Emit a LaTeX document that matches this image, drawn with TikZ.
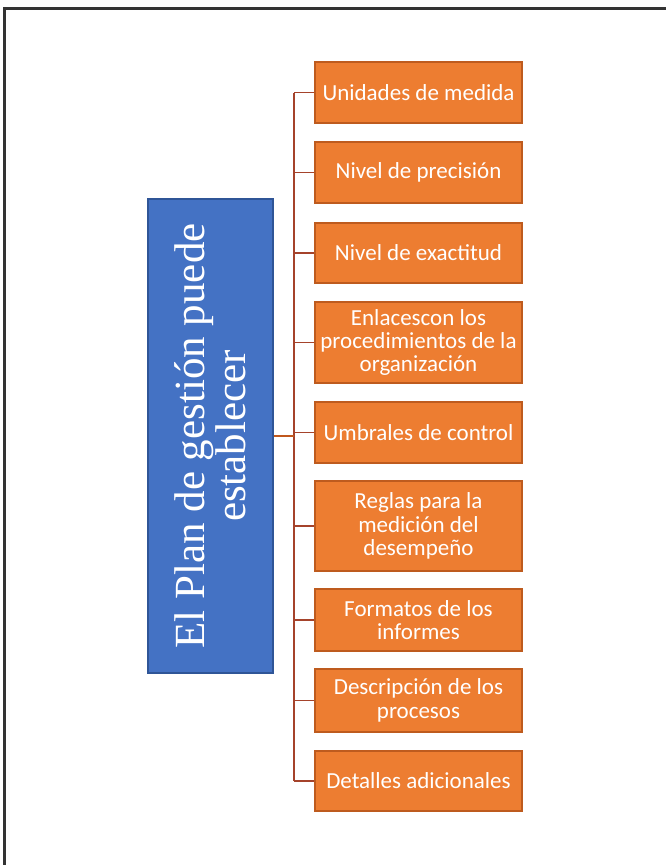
\documentclass[tikz,border=0pt]{standalone}
\usepackage{fontspec}
\setmainfont{Liberation Serif}
\newfontfamily\boxfont{Carlito}
\definecolor{bluefill}{HTML}{4472C4}
\definecolor{blueline}{HTML}{2F5597}
\definecolor{orfill}{HTML}{ED7D31}
\definecolor{orline}{HTML}{BE5B1E}
\definecolor{branchcol}{HTML}{A5432B}
\definecolor{maincol}{HTML}{C0571C}
\definecolor{framecol}{HTML}{333333}
\tikzset{
  rootbox/.style={draw=blueline, line width=1pt, fill=bluefill, minimum width=93.75pt, minimum height=355.5pt, inner sep=0pt},
  leafbox/.style={draw=orline, line width=0.9pt, fill=orfill, minimum width=155.25pt, inner sep=0pt, align=center, text=white,
    font=\boxfont\fontsize{17.25pt}{17.5pt}\selectfont},
  branch/.style={draw=branchcol, line width=1.1pt},
  mainline/.style={draw=maincol, line width=2pt},
}
\begin{document}
\begin{tikzpicture}[x=0.75pt, y=-0.75pt]
\clip (0,0) rectangle (666,865);
\fill[white] (0,0) rectangle (666,865);
\draw[framecol, line width=1.6pt] (4.5,8.5) rectangle (700,900);

\node[rootbox] (root) at (210.5,436) {};
\node[rotate=90, text=white, align=center, font=\fontsize{32.25pt}{31pt}\selectfont] (roottext) at (root.center) {El Plan de gestión puede\\establecer};

\node[leafbox, minimum height=45.75pt] (b1) at (418.5,92.5) {Unidades de medida};
\node[leafbox, minimum height=45.75pt] (b2) at (418.5,172.5) {Nivel de precisión};
\node[leafbox, minimum height=45pt] (b3) at (418.5,253) {Nivel de exactitud};
\node[leafbox, minimum height=60.75pt] (b4) at (418.5,342.5) {Enlacescon los\\procedimientos de la\\organización};
\node[leafbox, minimum height=45.75pt] (b5) at (418.5,432.5) {Umbrales de control};
\node[leafbox, minimum height=67.5pt] (b6) at (418.5,526) {Reglas para la\\medición del\\desempeño};
\node[leafbox, minimum height=46.5pt] (b7) at (418.5,620) {Formatos de los\\informes};
\node[leafbox, minimum height=47.25pt] (b8) at (418.5,700.5) {Descripción de los\\procesos};
\node[leafbox, minimum height=45pt] (b9) at (418.5,781) {Detalles adicionales};

\coordinate (tx) at (294,0);
\draw[branch] (b1.west -| tx) -- (b9.west -| tx);
\foreach \i in {1,...,9} {
  \draw[branch] (b\i.west) -- (b\i.west -| tx);
}
\draw[mainline] (root.east) -- (root.east -| tx);
\end{tikzpicture}
\end{document}
